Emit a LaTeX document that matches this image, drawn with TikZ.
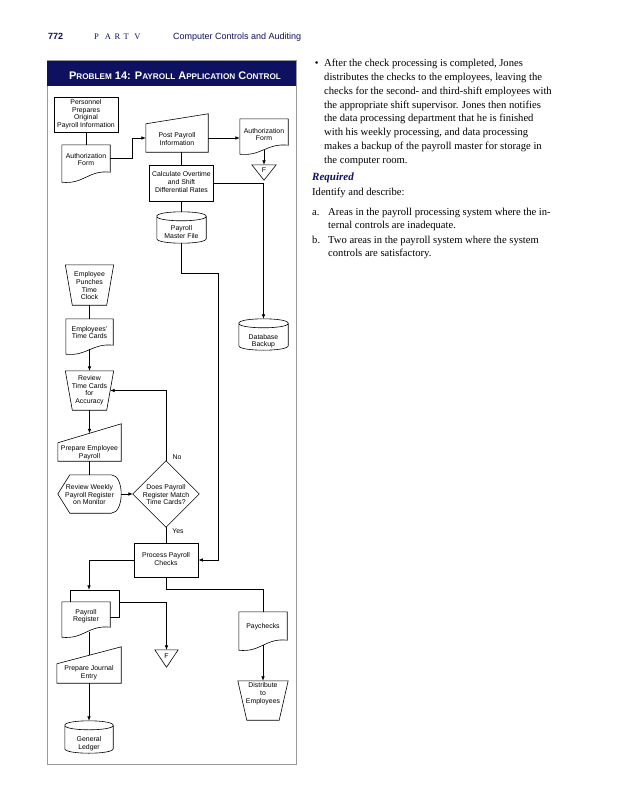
\documentclass[tikz,border=0pt]{standalone}
\usepackage{fontspec}
\setmainfont{Liberation Serif}
\setsansfont{Liberation Sans}
\usetikzlibrary{arrows.meta,calc}
\definecolor{navy}{RGB}{14,16,96}
\newcommand{\tlines}[1]{\begin{tabular}{@{}c@{}}#1\end{tabular}}
\newcommand{\sh}[2]{\raisebox{#1}[\height][\depth]{\tlines{#2}}}
\newcommand{\Bg}[1]{{\fontsize{11}{12}\selectfont #1}}
\newcommand{\Sm}[1]{{\fontsize{8.2}{9}\selectfont #1}}
\newcommand{\docout}[2]{\draw[shp] (#1.south west) -- (#1.north west) -- (#1.north east) -- ($(#1.south east)+(0,-#2)$) .. controls ($(#1.south east)!0.45!(#1.south west)+(0,-1.25*#2)$) and ($(#1.south west)!0.45!(#1.south east)+(0,0.25*#2)$) .. (#1.south west) -- cycle;}
\newcommand{\manout}[2]{\draw[shp] (#1.south west) -- (#1.north west) -- ($(#1.north east)+(0,-#2)$) -- (#1.south east) -- cycle;}
\newcommand{\trapout}[2]{\draw[shp] (#1.north west) -- (#1.north east) -- ($(#1.south east)+(-#2,0)$) -- ($(#1.south west)+(#2,0)$) -- cycle;}
\newcommand{\cylout}[2]{\draw[shp] ($(#1.north west)+(0,#2)$) .. controls +(0,-1.333*#2) and +(0,-1.333*#2) .. ($(#1.north east)+(0,#2)$) .. controls +(0,1.333*#2) and +(0,1.333*#2) .. ($(#1.north west)+(0,#2)$) -- ($(#1.south west)+(0,-#2)$) .. controls +(0,1.333*#2) and +(0,1.333*#2) .. ($(#1.south east)+(0,-#2)$) -- ($(#1.north east)+(0,#2)$);}
\newcommand{\dispout}[1]{\draw[shp] (#1.west) -- ($(#1.north west)+(12,0)$) -- ($(#1.north east)+(-10,0)$) .. controls +(13.33,0) and +(13.33,0) .. ($(#1.south east)+(-10,0)$) -- ($(#1.south west)+(12,0)$) -- cycle;}
\newcommand{\triout}[1]{\draw[shp] (#1.north west) -- (#1.north east) -- (#1.south) -- cycle;}
\newcommand{\diaout}[1]{\draw[shp] (#1.north) -- (#1.east) -- (#1.south) -- (#1.west) -- cycle;}
\begin{document}
\begin{tikzpicture}[x=1pt,y=-1pt,
  lbl/.style={font=\sffamily\fontsize{6.9}{7.8}\selectfont, inner sep=0pt},
  sz/.style 2 args={minimum width=#1, minimum height=#2},
  rct/.style={draw, line width=0.6pt},
  shp/.style={draw, line width=0.6pt},
  con/.style={line width=0.7pt},
  arr/.style={con, -{Latex[length=4.5pt,width=3.6pt]}},
  txt/.style={font=\fontsize{10.6}{13.85}\selectfont, inner sep=0pt}]
\useasboundingbox (0,0) rectangle (639,800);
\fill[white] (0,0) rectangle (639,800);
% page header
\node[font=\sffamily\bfseries\fontsize{9}{10}\selectfont, text=navy, inner sep=0, anchor=base west] (pg) at (48,40) {772};
\node[font=\fontsize{8.5}{10}\selectfont, text=navy, inner sep=0, anchor=base west] (part) at (94,40) {P\hspace{6pt}A\hspace{3.5pt}R\hspace{3.5pt}T\hspace{5.5pt}V};
\node[font=\sffamily\fontsize{9}{10}\selectfont, text=navy, inner sep=0, anchor=base west] (chap) at (173,40) {Computer Controls and Auditing};
% frame
\draw[gray!80, line width=1pt] (47,60.7) rectangle (296,764);
\fill[navy] (47,60.7) rectangle (296,86);
\node[font=\sffamily\bfseries\fontsize{11}{12}\selectfont, text=white, inner sep=0, anchor=base] (title) at (175,79) {\Bg{P}\Sm{ROBLEM} \Bg{14: P}\Sm{AYROLL} \Bg{A}\Sm{PPLICATION} \Bg{C}\Sm{ONTROL}};
% nodes
\node[lbl,rct,sz={64}{35}] (pers) at (86,114.5) {\tlines{Personnel\\Prepares\\Original\\Payroll Information}};
\node[lbl,sz={48}{37}] (auth1) at (86,163.5) {\sh{3pt}{Authorization\\Form}};
\node[lbl,sz={62}{28}] (post) at (177,138) {\sh{-1.7pt}{Post Payroll\\Information}};
\node[lbl,sz={48}{35}] (auth2) at (264,136.5) {\sh{1pt}{Authorization\\Form}};
\node[lbl,sz={24}{15}] (f1) at (264,172.5) {\sh{1.5pt}{F}};
\node[lbl,rct,sz={64}{36}] (calc) at (181.5,183) {\tlines{Calculate Overtime\\and Shift\\Differential Rates}};
\node[lbl,sz={49}{31}] (master) at (181.5,227.5) {\sh{-5.5pt}{Payroll\\Master File}};
\node[lbl,sz={49}{31}] (dbk) at (263.5,334.5) {\sh{-7pt}{Database\\Backup}};
\node[lbl,sz={48}{40}] (emp) at (89.5,285) {\sh{-1.7pt}{Employee\\Punches\\Time\\Clock}};
\node[lbl,sz={47}{35}] (cards) at (89.5,336.5) {\sh{3pt}{Employees'\\Time Cards}};
\node[lbl,sz={48}{39}] (review) at (89.5,390.5) {\tlines{Review\\Time Cards\\for\\Accuracy}};
\node[lbl,sz={63}{18}] (prep) at (89.5,452) {\sh{-0.8pt}{Prepare Employee\\Payroll}};
\node[lbl,sz={63}{38}] (rw) at (89.5,494) {\sh{-1.5pt}{Review Weekly\\Payroll Register\\on Monitor}};
\node[lbl,sz={66}{66}] (dia) at (166,494) {\sh{-1.5pt}{Does Payroll\\Register Match\\Time Cards?}};
\node[lbl] (no) at (177,457) {No};
\node[lbl] (yes) at (178,531) {Yes};
\node[lbl,rct,sz={64}{34}] (proc) at (166,560) {\tlines{Process Payroll\\Checks}};
\node[lbl,sz={48}{35}] (preg) at (86,619.5) {\sh{3pt}{Payroll\\Register}};
\node[lbl,sz={23}{17}] (f2) at (166.5,658.5) {\sh{2pt}{F}};
\node[lbl,sz={48}{38}] (pay) at (263,631) {\sh{4pt}{Paychecks}};
\node[lbl,sz={50}{39}] (dist) at (263,700.5) {\sh{6.7pt}{Distribute\\to\\Employees}};
\node[lbl,sz={64}{19}] (pje) at (89,673.5) {\sh{0.7pt}{Prepare Journal\\Entry}};
\node[lbl,sz={48}{32}] (gl) at (89,737) {\sh{-6.7pt}{General\\Ledger}};
% outlines
\docout{auth1}{10}
\manout{post}{10}
\docout{auth2}{9}
\triout{f1}
\cylout{master}{4.5}
\cylout{dbk}{4.5}
\trapout{emp}{7}
\docout{cards}{9}
\trapout{review}{7}
\manout{prep}{19}
\dispout{rw}
\diaout{dia}
\docout{preg}{10}
\draw[shp] ($(preg.north west)+(8,0)$) -- ($(preg.north west)+(8,-12)$) -- ($(preg.north east)+(9,-12)$) -- ($(preg.north east)+(9,15)$) -- ($(preg.north east)+(0,15)$);
\triout{f2}
\docout{pay}{10}
\trapout{dist}{9}
\manout{pje}{17}
\cylout{gl}{4.5}
% helper coordinates
\coordinate (revR) at ($(review.east)+(-3.5,0)$);
\coordinate (prepT) at ($(prep.north)+(0,-9.5)$);
\coordinate (mbend) at (218,273);
\coordinate (pregT) at ($(preg.north)+(3,-12)$);
\coordinate (pregR) at ($(preg.north east)+(9,1)$);
\coordinate (pregB) at ($(preg.south)+(3,-5)$);
\coordinate (pjeT) at ($(pje.north)+(0,-8.5)$);
\coordinate (pbend) at (263,589);
% connectors
\draw[con] (pers.south) -- (auth1.north);
\draw[arr] ($(auth1.east)+(0,-5.5)$) -- ++(22,0) |- (post.west);
\draw[arr] (post.east) -- (post.east -| auth2.west);
\draw[arr] ($(auth2.south)+(0,-4)$) -- (f1.north);
\draw[con] (post.south -| calc.north) -- (calc.north);
\draw[arr] (calc.east) -| (dbk.north);
\draw[con] (calc.south) -- (master.north);
\draw[arr] (master.south) |- (mbend) |- (proc.east);
\draw[con] (emp.south) -- (cards.north);
\draw[arr] ($(cards.south)+(0,-5)$) -- (review.north);
\draw[arr] (review.south) -- (prepT);
\draw[con] (prep.south) -- (rw.north);
\draw[arr] (rw.east) -- (dia.west);
\draw[arr] (dia.north) |- (revR);
\draw[con] (dia.south) -- (proc.north);
\draw[arr] (proc.west) -| (pregT);
\draw[arr] (pregR) -| (f2.north);
\draw[con] (pregB) -- (pjeT);
\draw[arr] (pje.south) -- (gl.north);
\draw[con] (proc.south) |- (pbend) -- (pay.north);
\draw[arr] ($(pay.south)+(0,-5)$) -- (dist.north);
% right column
\node[txt, anchor=base] (bul) at (316.7,66.5) {\textbullet};
\node[txt, anchor=base west] (body) at (324,66.5) {\parbox[t]{280pt}{\raggedright After the check processing is completed, Jones\\
distributes the checks to the employees, leaving the\\
checks for the second- and third-shift employees with\\
the appropriate shift supervisor. Jones then notifies\\
the data processing department that he is finished\\
with his weekly processing, and data processing\\
makes a backup of the payroll master for storage in\\
the computer room.}};
\node[txt, anchor=base west, text=navy, font=\bfseries\itshape\fontsize{11}{13}\selectfont] (req) at (312,180.5) {Required};
\node[txt, anchor=base west] (idf) at (312,195) {Identify and describe:};
\node[txt, anchor=base west] (la) at (312,215) {a.};
\node[txt, anchor=base west] (ta) at (328,215) {\parbox[t]{280pt}{\raggedright Areas in the payroll processing system where the in-\\ternal controls are inadequate.}};
\node[txt, anchor=base west] (lb) at (312,243) {b.};
\node[txt, anchor=base west] (tb) at (328,243) {\parbox[t]{280pt}{\raggedright Two areas in the payroll system where the system\\controls are satisfactory.}};
\end{tikzpicture}
\end{document}
